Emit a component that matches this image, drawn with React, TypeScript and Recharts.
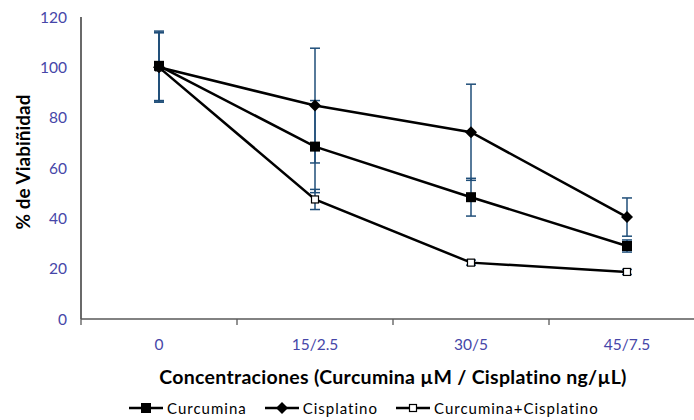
import { LineChart, Line, XAxis, YAxis, ErrorBar } from "recharts";

const categories = ["0", "15/2.5", "30/5", "45/7.5"];
const curcumina = [100.6, 68.5, 48.4, 29];
const curcuminaErr = [13.8, 18.3, 7.5, 2.4];
const cisplatino = [100, 84.8, 74.2, 40.5];
const cisplatinoErr = [13.8, 22.8, 19.1, 7.6];
const combinado = [100, 47.5, 22.4, 18.7];
const combinadoErr = [13.8, 4, 1, 1];
const yTicks = [0, 20, 40, 60, 80, 100, 120];

const FONT = "Lato, 'Open Sans', sans-serif";
const TICK = "#4646a8";
const ERR = "#1f4e79";

const rows = categories.map((label, i) => ({
  x: i,
  label,
  curcumina: curcumina[i],
  curcuminaErr: curcuminaErr[i],
  cisplatino: cisplatino[i],
  cisplatinoErr: cisplatinoErr[i],
  combinado: combinado[i],
  combinadoErr: combinadoErr[i],
}));

// tick marks sit between categories, labels at the centres
const xTicks = categories.flatMap((_, i) => [i - 0.5, i]).concat(categories.length - 0.5);

function XTick({ x, y, payload }: any) {
  const v = payload.value;
  if (!Number.isInteger(v)) {
    return <line x1={x} x2={x} y1={y} y2={y + 6} stroke="#595959" strokeWidth={1.3} />;
  }
  return (
    <text x={x} y={y + 31} textAnchor="middle" fill={TICK} fontSize={15.5} fontFamily={FONT}>
      {categories[v]}
    </text>
  );
}

const squareDot = (p: any) => (
  <rect key={`sq-${p.index}`} x={p.cx - 5} y={p.cy - 5} width={10} height={10} fill="#000" />
);
const diamondDot = (p: any) => (
  <polygon
    key={`di-${p.index}`}
    points={`${p.cx},${p.cy - 6} ${p.cx + 6},${p.cy} ${p.cx},${p.cy + 6} ${p.cx - 6},${p.cy}`}
    fill="#000"
  />
);
const hollowDot = (p: any) => (
  <rect
    key={`ho-${p.index}`}
    x={p.cx - 3.5}
    y={p.cy - 3.5}
    width={7}
    height={7}
    fill="#fff"
    stroke="#000"
    strokeWidth={1.2}
  />
);

function LegendIcon({ kind }: { kind: string }) {
  return (
    <svg width={34} height={12} style={{ marginRight: 4 }}>
      <line x1={0} x2={34} y1={6} y2={6} stroke="#000" strokeWidth={2.5} />
      {kind === "square" && <rect x={12} y={1} width={10} height={10} fill="#000" />}
      {kind === "diamond" && <polygon points="17,0 23,6 17,12 11,6" fill="#000" />}
      {kind === "hollow" && (
        <rect x={13.5} y={2.5} width={7} height={7} fill="#fff" stroke="#000" strokeWidth={1.2} />
      )}
    </svg>
  );
}

const legendItems = [
  { name: "Curcumina", kind: "square" },
  { name: "Cisplatino", kind: "diamond" },
  { name: "Curcumina+Cisplatino", kind: "hollow" },
];

export default function App() {
  return (
    <div
      style={{
        position: "absolute",
        left: 0,
        top: 0,
        width: 694,
        height: 420,
        overflow: "hidden",
        background: "#fff",
      }}
    >
      <LineChart
        width={706}
        height={420}
        data={rows}
        margin={{ top: 17, right: 1, bottom: 0, left: 0 }}
      >
        <YAxis
          width={81}
          domain={[0, 120]}
          ticks={yTicks}
          interval={0}
          tickLine={false}
          tickSize={6}
          tickMargin={8}
          axisLine={{ stroke: "#1a1a1a", strokeWidth: 1.3 }}
          tick={{ fill: TICK, fontSize: 15.5, fontFamily: FONT }}
          label={({ viewBox }: any) => {
            const cx = viewBox.x + 22;
            const cy = viewBox.y + viewBox.height / 2 - 6;
            return (
              <text
                x={cx}
                y={cy}
                transform={`rotate(-90, ${cx}, ${cy})`}
                textAnchor="middle"
                dominantBaseline="central"
                fontSize={19}
                fontWeight="bold"
                fontFamily={FONT}
                fill="#000"
              >
                % de Viabiñidad
              </text>
            );
          }}
        />
        <XAxis
          dataKey="x"
          type="number"
          domain={[-0.5, categories.length - 0.5]}
          ticks={xTicks}
          interval={0}
          height={101}
          tickLine={false}
          tickSize={0}
          tickMargin={0}
          axisLine={{ stroke: "#595959", strokeWidth: 1.3 }}
          tick={<XTick />}
          label={{
            value: "Concentraciones (Curcumina µM / Cisplatino ng/µL)",
            position: "insideTop",
            offset: 51,
            style: {
              fontSize: 19.5,
              fontWeight: "bold",
              fontFamily: FONT,
              fill: "#000",
              letterSpacing: 0.3,
            },
          }}
        />
        <Line
          dataKey="cisplatino"
          stroke="#000"
          strokeWidth={2.5}
          dot={diamondDot}
          activeDot={false}
          isAnimationActive={false}
        >
          <ErrorBar dataKey="cisplatinoErr" width={5} stroke={ERR} strokeWidth={1.5} />
        </Line>
        <Line
          dataKey="combinado"
          stroke="#000"
          strokeWidth={2.5}
          dot={hollowDot}
          activeDot={false}
          isAnimationActive={false}
        >
          <ErrorBar dataKey="combinadoErr" width={5} stroke={ERR} strokeWidth={1.5} />
        </Line>
        <Line
          dataKey="curcumina"
          stroke="#000"
          strokeWidth={2.5}
          dot={squareDot}
          activeDot={false}
          isAnimationActive={false}
        >
          <ErrorBar dataKey="curcuminaErr" width={5} stroke={ERR} strokeWidth={1.5} />
        </Line>
      </LineChart>
      <div
        style={{
          position: "absolute",
          left: 129,
          top: 400,
          display: "flex",
          alignItems: "center",
          fontFamily: FONT,
          fontSize: 15,
          letterSpacing: 1,
          color: "#000",
          lineHeight: "16px",
        }}
      >
        {legendItems.map((it) => (
          <div key={it.name} style={{ display: "flex", alignItems: "center", marginRight: 18 }}>
            <LegendIcon kind={it.kind} />
            <span>{it.name}</span>
          </div>
        ))}
      </div>
    </div>
  );
}
